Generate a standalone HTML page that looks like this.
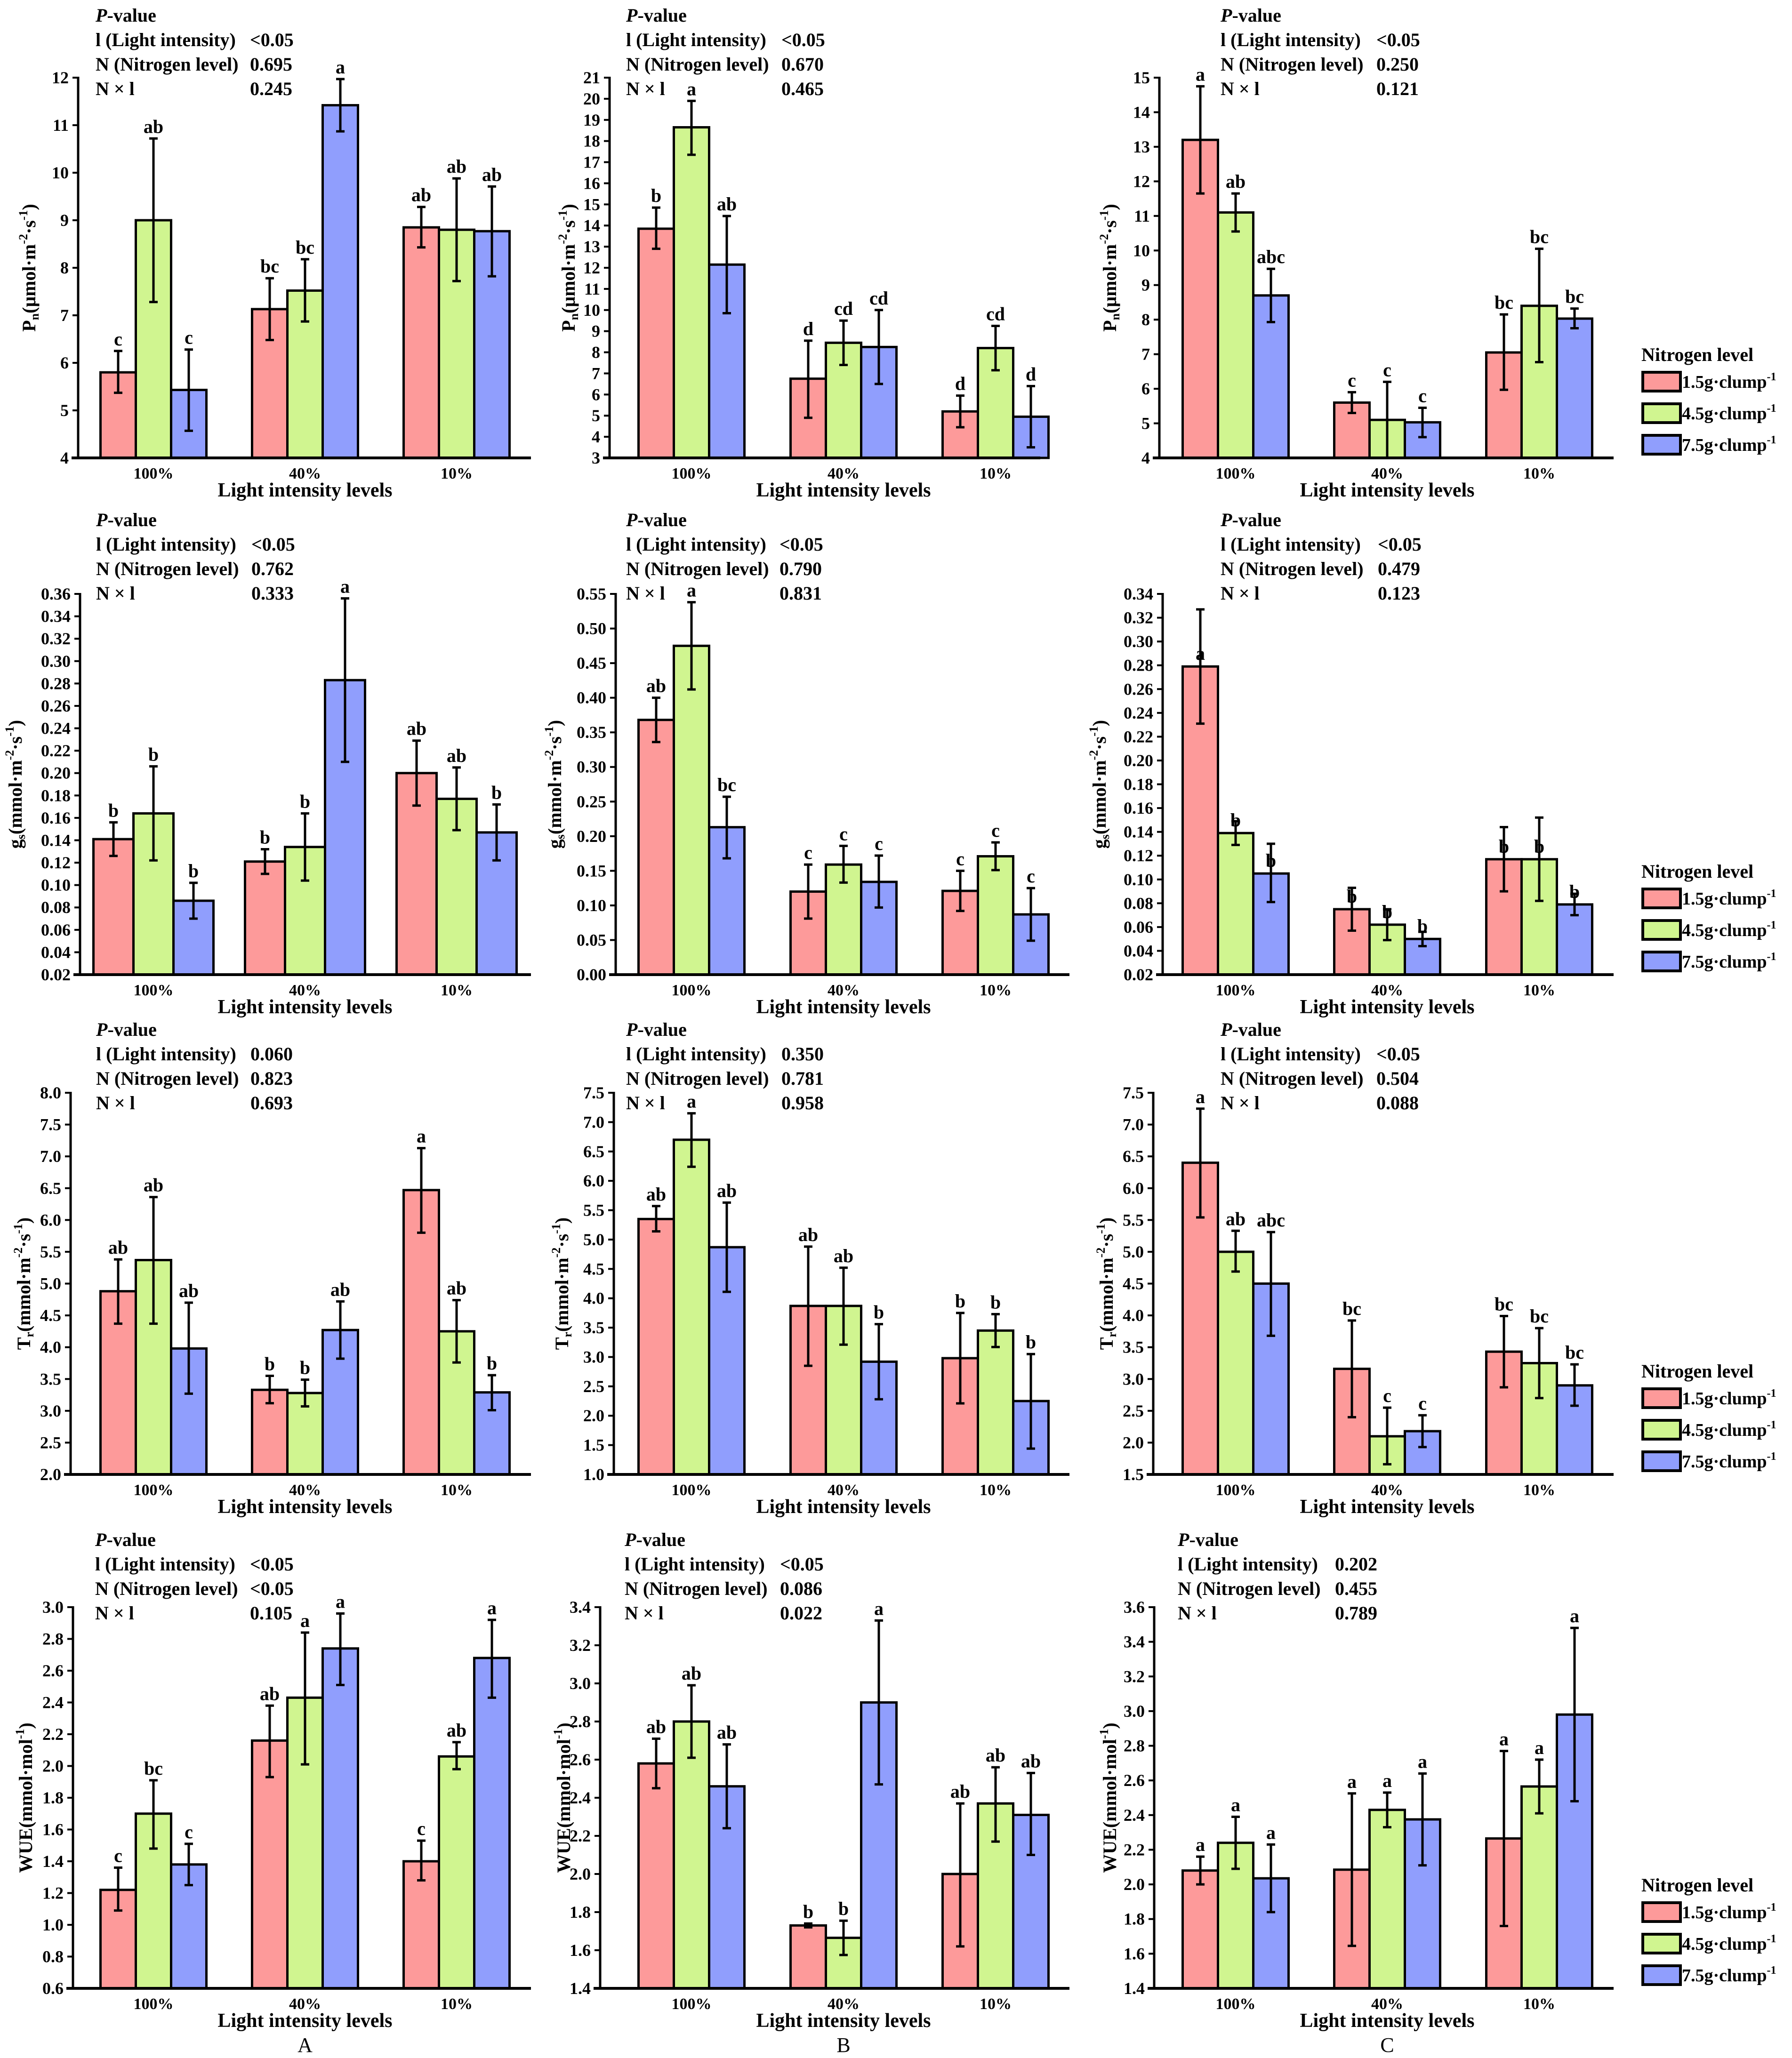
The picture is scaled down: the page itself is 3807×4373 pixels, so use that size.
<!DOCTYPE html>
<html><head><meta charset="utf-8"><title>Photosynthesis panels</title>
<style>
html,body{margin:0;padding:0;background:#fff;}
svg{display:block;font-family:"Liberation Serif","DejaVu Serif",serif;font-weight:bold;}
</style></head>
<body>
<svg id="fig" width="3807" height="4373" viewBox="0 0 3807 4373" xmlns="http://www.w3.org/2000/svg"></svg>
<script>
// ---------- shared categories / series ----------
const categories = ['100%', '40%', '10%'];
const seriesNames = ['1.5g·clump', '4.5g·clump', '7.5g·clump'];
const seriesColors = ['#fd9a9a', '#d0f590', '#909efd'];

// ---------- Row 1: Pn ----------
const A1_mean = [5.80, 9.00, 5.43, 7.13, 7.52, 11.42, 8.85, 8.80, 8.77];
const A1_lo   = [5.37, 7.28, 4.57, 6.48, 6.87, 10.87, 8.43, 7.72, 7.82];
const A1_hi   = [6.25, 10.72, 6.28, 7.78, 8.18, 11.97, 9.28, 9.88, 9.71];
const A1_let  = ['c','ab','c','bc','bc','a','ab','ab','ab'];
const A1_ticks = [4,5,6,7,8,9,10,11,12];
const A1_p = ['<0.05','0.695','0.245'];

const B1_mean = [13.85, 18.65, 12.15, 6.75, 8.45, 8.25, 5.20, 8.20, 4.95];
const B1_lo   = [12.90, 17.35, 9.85, 4.90, 7.40, 6.50, 4.45, 7.15, 3.50];
const B1_hi   = [14.85, 19.90, 14.45, 8.55, 9.50, 10.00, 5.95, 9.25, 6.40];
const B1_let  = ['b','a','ab','d','cd','cd','d','cd','d'];
const B1_ticks = [3,4,5,6,7,8,9,10,11,12,13,14,15,16,17,18,19,20,21];
const B1_p = ['<0.05','0.670','0.465'];

const C1_mean = [13.20, 11.10, 8.70, 5.60, 5.10, 5.03, 7.05, 8.40, 8.03];
const C1_lo   = [11.65, 10.55, 7.93, 5.30, 4.00, 4.60, 5.97, 6.77, 7.75];
const C1_hi   = [14.75, 11.65, 9.47, 5.90, 6.20, 5.45, 8.15, 10.05, 8.32];
const C1_let  = ['a','ab','abc','c','c','c','bc','bc','bc'];
const C1_ticks = [4,5,6,7,8,9,10,11,12,13,14,15];
const C1_p = ['<0.05','0.250','0.121'];

// ---------- Row 2: gs ----------
const A2_mean = [0.141, 0.164, 0.086, 0.121, 0.134, 0.283, 0.200, 0.177, 0.147];
const A2_lo   = [0.126, 0.122, 0.070, 0.110, 0.104, 0.210, 0.171, 0.149, 0.122];
const A2_hi   = [0.156, 0.206, 0.102, 0.132, 0.164, 0.356, 0.229, 0.205, 0.172];
const A2_let  = ['b','b','b','b','b','a','ab','ab','b'];
const A2_ticks = [0.02,0.04,0.06,0.08,0.10,0.12,0.14,0.16,0.18,0.20,0.22,0.24,0.26,0.28,0.30,0.32,0.34,0.36];
const A2_p = ['<0.05','0.762','0.333'];

const B2_mean = [0.368, 0.475, 0.213, 0.120, 0.159, 0.134, 0.121, 0.171, 0.087];
const B2_lo   = [0.336, 0.412, 0.168, 0.081, 0.133, 0.097, 0.092, 0.151, 0.049];
const B2_hi   = [0.400, 0.538, 0.257, 0.159, 0.186, 0.172, 0.150, 0.191, 0.125];
const B2_let  = ['ab','a','bc','c','c','c','c','c','c'];
const B2_ticks = [0.00,0.05,0.10,0.15,0.20,0.25,0.30,0.35,0.40,0.45,0.50,0.55];
const B2_p = ['<0.05','0.790','0.831'];

const C2_mean = [0.279, 0.139, 0.105, 0.075, 0.062, 0.050, 0.117, 0.117, 0.079];
const C2_lo   = [0.231, 0.129, 0.081, 0.057, 0.049, 0.044, 0.090, 0.082, 0.070];
const C2_hi   = [0.327, 0.149, 0.130, 0.093, 0.075, 0.056, 0.144, 0.152, 0.088];
const C2_let  = ['a','b','b','b','b','b','b','b','b'];
const C2_ticks = [0.02,0.04,0.06,0.08,0.10,0.12,0.14,0.16,0.18,0.20,0.22,0.24,0.26,0.28,0.30,0.32,0.34];
const C2_p = ['<0.05','0.479','0.123'];

// ---------- Row 3: Tr ----------
const A3_mean = [4.88, 5.37, 3.98, 3.33, 3.28, 4.27, 6.47, 4.25, 3.29];
const A3_lo   = [4.37, 4.37, 3.27, 3.12, 3.07, 3.82, 5.80, 3.76, 3.01];
const A3_hi   = [5.38, 6.36, 4.70, 3.55, 3.49, 4.72, 7.13, 4.74, 3.56];
const A3_let  = ['ab','ab','ab','b','b','ab','a','ab','b'];
const A3_ticks = [2.0,2.5,3.0,3.5,4.0,4.5,5.0,5.5,6.0,6.5,7.0,7.5,8.0];
const A3_p = ['0.060','0.823','0.693'];

const B3_mean = [5.35, 6.70, 4.87, 3.87, 3.87, 2.92, 2.98, 3.45, 2.25];
const B3_lo   = [5.14, 6.24, 4.11, 2.85, 3.21, 2.28, 2.21, 3.17, 1.44];
const B3_hi   = [5.57, 7.15, 5.63, 4.88, 4.52, 3.56, 3.75, 3.73, 3.05];
const B3_let  = ['ab','a','ab','ab','ab','b','b','b','b'];
const B3_ticks = [1.0,1.5,2.0,2.5,3.0,3.5,4.0,4.5,5.0,5.5,6.0,6.5,7.0,7.5];
const B3_p = ['0.350','0.781','0.958'];

const C3_mean = [6.40, 5.00, 4.50, 3.16, 2.10, 2.18, 3.43, 3.25, 2.90];
const C3_lo   = [5.54, 4.69, 3.68, 2.40, 1.66, 1.93, 2.87, 2.70, 2.58];
const C3_hi   = [7.25, 5.33, 5.31, 3.92, 2.55, 2.43, 3.99, 3.80, 3.23];
const C3_let  = ['a','ab','abc','bc','c','c','bc','bc','bc'];
const C3_ticks = [1.5,2.0,2.5,3.0,3.5,4.0,4.5,5.0,5.5,6.0,6.5,7.0,7.5];
const C3_p = ['<0.05','0.504','0.088'];

// ---------- Row 4: WUE ----------
const A4_mean = [1.22, 1.70, 1.38, 2.16, 2.43, 2.74, 1.40, 2.06, 2.68];
const A4_lo   = [1.09, 1.48, 1.25, 1.93, 2.01, 2.51, 1.28, 1.98, 2.43];
const A4_hi   = [1.36, 1.91, 1.51, 2.38, 2.84, 2.96, 1.53, 2.15, 2.92];
const A4_let  = ['c','bc','c','ab','a','a','c','ab','a'];
const A4_ticks = [0.6,0.8,1.0,1.2,1.4,1.6,1.8,2.0,2.2,2.4,2.6,2.8,3.0];
const A4_p = ['<0.05','<0.05','0.105'];

const B4_mean = [2.58, 2.80, 2.46, 1.73, 1.665, 2.90, 2.00, 2.37, 2.31];
const B4_lo   = [2.45, 2.61, 2.24, 1.72, 1.575, 2.47, 1.62, 2.17, 2.10];
const B4_hi   = [2.71, 2.99, 2.68, 1.74, 1.755, 3.33, 2.37, 2.56, 2.53];
const B4_let  = ['ab','ab','ab','b','b','a','ab','ab','ab'];
const B4_ticks = [1.4,1.6,1.8,2.0,2.2,2.4,2.6,2.8,3.0,3.2,3.4];
const B4_p = ['<0.05','0.086','0.022'];

const C4_mean = [2.08, 2.24, 2.035, 2.085, 2.43, 2.375, 2.265, 2.565, 2.98];
const C4_lo   = [2.00, 2.09, 1.84, 1.645, 2.33, 2.11, 1.76, 2.41, 2.48];
const C4_hi   = [2.16, 2.39, 2.23, 2.525, 2.53, 2.64, 2.77, 2.72, 3.48];
const C4_let  = ['a','a','a','a','a','a','a','a','a'];
const C4_ticks = [1.4,1.6,1.8,2.0,2.2,2.4,2.6,2.8,3.0,3.2,3.4,3.6];
const C4_p = ['0.202','0.455','0.789'];

const pLabels = ['l (Light intensity)', 'N (Nitrogen level)', 'N × l'];
const panelLetters = ['A', 'B', 'C'];

// ---------- layout (not data) ----------
const NS = 'http://www.w3.org/2000/svg';
const svg = document.getElementById('fig');
const rowTop = [165, 1262, 2322, 3415];
const rowBot = [973, 2071, 3133, 4225];
const rowPv  = [46, 1118, 2201, 3285];
const colCenters = [[326,648,970],[1469,1792,2115],[2625,2947,3270]];
const colXEnd = [1128, 2272, 3428];

function mk(tag, parent) { const e = document.createElementNS(NS, tag); (parent || svg).appendChild(e); return e; }
function setA(e, o) { for (const k in o) e.setAttribute(k, o[k]); return e; }

const panels = [
  {key:'A1', r:0, c:0, ax:166, ytx:66, bw:75, dec:0, mean:A1_mean, lo:A1_lo, hi:A1_hi, let:A1_let, ticks:A1_ticks, p:A1_p, pvX:203, pvV:531, yt:'Pn'},
  {key:'B1', r:0, c:1, ax:1295, ytx:1212, bw:75, dec:0, mean:B1_mean, lo:B1_lo, hi:B1_hi, let:B1_let, ticks:B1_ticks, p:B1_p, pvX:1330, pvV:1660, yt:'Pn', xEnd:2210},
  {key:'C1', r:0, c:2, ax:2463, ytx:2362, bw:75, dec:0, mean:C1_mean, lo:C1_lo, hi:C1_hi, let:C1_let, ticks:C1_ticks, p:C1_p, pvX:2593, pvV:2924, yt:'Pn'},
  {key:'A2', r:1, c:0, ax:170, ytx:37, bw:85, dec:2, mean:A2_mean, lo:A2_lo, hi:A2_hi, let:A2_let, ticks:A2_ticks, p:A2_p, pvX:204, pvV:534, yt:'gs'},
  {key:'B2', r:1, c:1, ax:1308, ytx:1183, bw:75, dec:2, mean:B2_mean, lo:B2_lo, hi:B2_hi, let:B2_let, ticks:B2_ticks, p:B2_p, pvX:1330, pvV:1656, yt:'gs'},
  {key:'C2', r:1, c:2, ax:2470, ytx:2340, bw:75, dec:2, mean:C2_mean, lo:C2_lo, hi:C2_hi, let:C2_let, ticks:C2_ticks, p:C2_p, pvX:2593, pvV:2927, yt:'gs', letAtMean:true},
  {key:'A3', r:2, c:0, ax:150, ytx:55, bw:75, dec:1, mean:A3_mean, lo:A3_lo, hi:A3_hi, let:A3_let, ticks:A3_ticks, p:A3_p, pvX:204, pvV:532, yt:'Tr'},
  {key:'B3', r:2, c:1, ax:1304, ytx:1198, bw:75, dec:1, mean:B3_mean, lo:B3_lo, hi:B3_hi, let:B3_let, ticks:B3_ticks, p:B3_p, pvX:1330, pvV:1660, yt:'Tr'},
  {key:'C3', r:2, c:2, ax:2450, ytx:2355, bw:75, dec:1, mean:C3_mean, lo:C3_lo, hi:C3_hi, let:C3_let, ticks:C3_ticks, p:C3_p, pvX:2593, pvV:2924, yt:'Tr'},
  {key:'A4', r:3, c:0, ax:155, ytx:59, bw:75, dec:1, mean:A4_mean, lo:A4_lo, hi:A4_hi, let:A4_let, ticks:A4_ticks, p:A4_p, pvX:202, pvV:531, yt:'WUE'},
  {key:'B4', r:3, c:1, ax:1275, ytx:1202, bw:75, dec:1, mean:B4_mean, lo:B4_lo, hi:B4_hi, let:B4_let, ticks:B4_ticks, p:B4_p, pvX:1327, pvV:1657, yt:'WUE'},
  {key:'C4', r:3, c:2, ax:2452, ytx:2362, bw:75, dec:1, mean:C4_mean, lo:C4_lo, hi:C4_hi, let:C4_let, ticks:C4_ticks, p:C4_p, pvX:2502, pvV:2836, yt:'WUE'}
];

function yTitle(g, type, x, y) {
  const t = mk('text', g);
  setA(t, {x:x, y:y, 'font-size':40, 'text-anchor':'middle', transform:'rotate(-90 '+x+' '+y+')', 'dominant-baseline':'middle'});
  
  
  const parts = {
    Pn: [['P',0],['n',1],['(μmol·m',0],['-2',2],['·s',0],['-1',2],[')',0]],
    gs: [['g',0],['s',1],['(mmol·m',0],['-2',2],['·s',0],['-1',2],[')',0]],
    Tr: [['T',0],['r',1],['(mmol·m',0],['-2',2],['·s',0],['-1',2],[')',0]],
    WUE:[['WUE(mmol·mol',0],['-1',2],[')',0]]
  }[type];
  let cur = 0;
  parts.forEach(([s, k]) => {
    const ts = mk('tspan', t);
    const target = k === 1 ? 10 : (k === 2 ? -14 : 0);
    ts.setAttribute('dy', target - cur);
    cur = target;
    if (k) ts.setAttribute('font-size', 26);
    ts.textContent = s;
  });
}

panels.forEach(P => {
  const g = mk('g');
  
  
  const top = rowTop[P.r], bot = rowBot[P.r];
  const vmin = P.ticks[0], vmax = P.ticks[P.ticks.length - 1];
  const yS = v => bot - (v - vmin) / (vmax - vmin) * (bot - top);
  const centers = colCenters[P.c];
  const xEnd = P.xEnd || colXEnd[P.c];

  const pv = mk('text', g);
  setA(pv, {x:P.pvX, y:rowPv[P.r], 'font-size':40});
  
  
  const it = mk('tspan', pv); it.setAttribute('font-style', 'italic'); it.textContent = 'P';
  const rest = mk('tspan', pv); rest.textContent = '-value';
  pLabels.forEach((lab, i) => {
    const y = rowPv[P.r] + 52 * (i + 1);
    const l = mk('text', g); setA(l, {x:P.pvX, y:y, 'font-size':40});
    
    
    l.textContent = lab;
    const v = mk('text', g); setA(v, {x:P.pvV, y:y, 'font-size':40});
    
    
    v.textContent = P.p[i];
  });

  P.mean.forEach((m, idx) => {
    const gi = Math.floor(idx / 3), si = idx % 3;
    const cx = centers[gi] + (si - 1) * P.bw;
    const yb = yS(m);
    const rect = mk('rect', g);
    setA(rect, {x:cx - P.bw/2, y:yb, width:P.bw, height:bot - yb, fill:seriesColors[si], stroke:'#000', 'stroke-width':5});
    
    
  });
  P.mean.forEach((m, idx) => {
    const gi = Math.floor(idx / 3), si = idx % 3;
    const cx = centers[gi] + (si - 1) * P.bw;
    const y1 = yS(P.lo[idx]), y2 = yS(P.hi[idx]);
    const eb = mk('path', g);
    setA(eb, {d:'M'+cx+' '+y1+'V'+y2+'M'+(cx-9)+' '+y1+'H'+(cx+9)+'M'+(cx-9)+' '+y2+'H'+(cx+9), stroke:'#000', 'stroke-width':5, fill:'none'});
    
    
    const lt = mk('text', g);
    const ly = P.letAtMean ? yS(m) - 14 : y2 - 12;
    setA(lt, {x:cx, y:ly, 'font-size':40, 'text-anchor':'middle'});
    
    
    lt.textContent = P.let[idx];
  });

  const yax = mk('line', g);
  setA(yax, {x1:P.ax, y1:top - 2, x2:P.ax, y2:bot, stroke:'#000', 'stroke-width':5});
  
  
  const xax = mk('line', g);
  setA(xax, {x1:P.ax - 14, y1:bot, x2:xEnd, y2:bot, stroke:'#000', 'stroke-width':6});
  
  
  P.ticks.forEach(tv => {
    const y = yS(tv);
    const tk = mk('line', g);
    setA(tk, {x1:P.ax - 12, y1:y, x2:P.ax, y2:y, stroke:'#000', 'stroke-width':4});
    
    
    const tl = mk('text', g);
    setA(tl, {x:P.ax - 20, y:y + 12, 'font-size':36, 'text-anchor':'end'});
    
    
    tl.textContent = tv.toFixed(P.dec);
  });
  categories.forEach((c, gi) => {
    const t = mk('text', g);
    setA(t, {x:centers[gi], y:bot + 44, 'font-size':34, 'text-anchor':'middle'});
    
    
    t.textContent = c;
  });
  const xt = mk('text', g);
  setA(xt, {x:centers[1], y:bot + 82, 'font-size':42, 'text-anchor':'middle'});
  
  
  xt.textContent = 'Light intensity levels';
  yTitle(g, P.yt, P.ytx, (top + bot) / 2);

  if (P.r === 3) {
    const pl = mk('text', g);
    setA(pl, {x:centers[1], y:4360, 'font-size':44, 'text-anchor':'middle', 'font-weight':'normal'});
    
    
    pl.textContent = panelLetters[P.c];
  }

  if (P.c === 2) {
    const lg = mk('g', g);
    
    
    const lt = mk('text', lg);
    setA(lt, {x:3487, y:bot - 206, 'font-size':40});
    
    
    lt.textContent = 'Nitrogen level';
    const offs = [182, 115, 48];
    seriesNames.forEach((s, si) => {
      const by = bot - offs[si];
      const box = mk('rect', lg);
      setA(box, {x:3490, y:by, width:80, height:40, fill:seriesColors[si], stroke:'#000', 'stroke-width':6});
      
      
      const tx = mk('text', lg);
      setA(tx, {x:3573, y:by + 33, 'font-size':38});
      
      
      const a = mk('tspan', tx); a.textContent = s;
      const b = mk('tspan', tx); setA(b, {dy:-16, 'font-size':24}); b.textContent = '-1';
    });
  }
});
</script>
</body></html>
